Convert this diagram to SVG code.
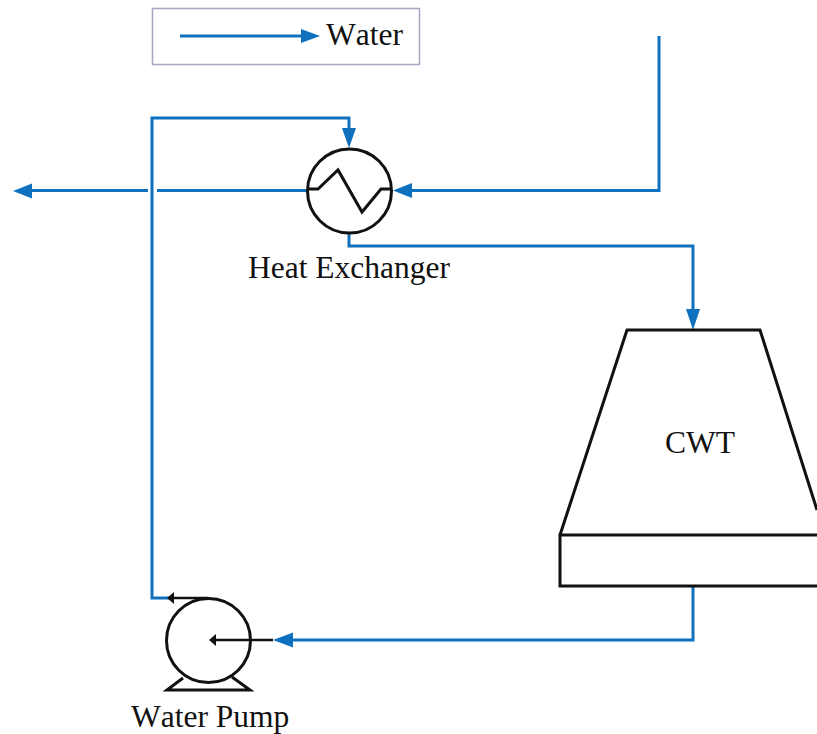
<svg xmlns="http://www.w3.org/2000/svg" width="817" height="734" viewBox="0 0 817 734">
<style>
.w{fill:none;stroke:#0f70bd;stroke-width:3}
.a{fill:#0f70bd}
.k{fill:none;stroke:#111;stroke-width:2.4}
.kt{fill:none;stroke:#111;stroke-width:3}
.h{fill:#111}
text{font-family:"Liberation Serif","Times New Roman",serif;fill:#111;font-size:31.500px;font-kerning:none}
</style>
<rect width="817" height="734" fill="#fff"/>
<g id="connectors">
<path class="w" d="M659 36V190.500H408"/>
<path class="a" d="M393 190.500L412 183V198Z"/>
<path class="w" d="M307 190.500H157M148 190.500H28"/>
<path class="a" d="M13 191L32 183.500V198.500Z"/>
<path class="w" d="M349 233V246H693V315"/>
<path class="a" d="M693 330L686 309H700Z"/>
<path class="w" d="M169 598H152V118H349V132"/>
<path class="a" d="M349 148L342 128H356Z"/>
<path class="w" d="M693 586V640H290"/>
<path class="a" d="M273 640L293 632.500V647.500Z"/>
</g>
<g id="legend">
<rect x="152.500" y="8.500" width="267" height="56" fill="#fff" stroke="#a9a3c4" stroke-width="1.500"/>
<path class="w" d="M180 36H304"/>
<path class="a" d="M320 36L301 29V43Z"/>
<text x="326" y="45">Water</text>
</g>
<g id="heat-exchanger">
<circle class="kt" cx="349.500" cy="191" r="42"/>
<path class="kt" d="M307 189H318L338 170L362 212L381 189H392"/>
<text x="248" y="278">Heat Exchanger</text>
</g>
<g id="cwt">
<path class="kt" d="M560 535L627 330H760L817 510"/>
<path class="kt" d="M817 535H560V586H817"/>
<text x="665" y="453">CWT</text>
</g>
<g id="water-pump">
<circle class="kt" cx="208.500" cy="640.500" r="42"/>
<path class="kt" d="M183 678L167 690H250L232 677"/>
<path class="k" d="M208 598H172"/>
<path class="h" d="M167 598L174 592V604Z"/>
<path class="k" d="M273 640H214"/>
<path class="h" d="M209 640L216 634V646Z"/>
<text x="131" y="727">Water Pump</text>
</g>
</svg>
